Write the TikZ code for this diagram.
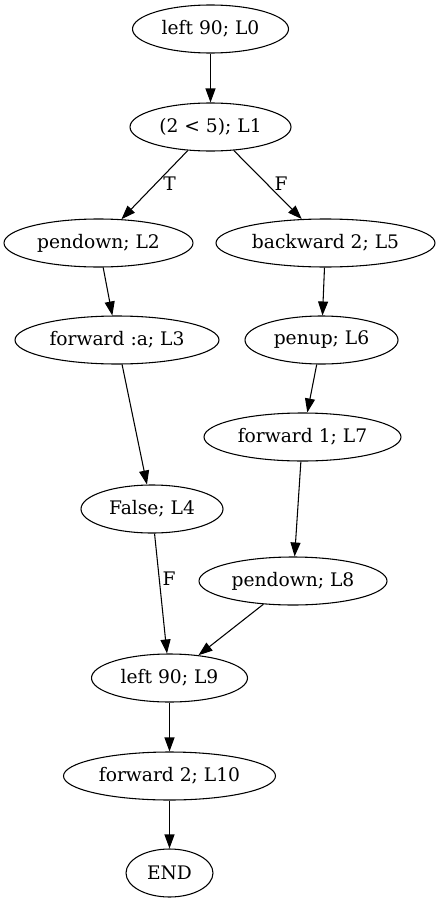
\documentclass[tikz,border=0pt]{standalone}
\usepackage{fontspec}
\setmainfont{DejaVu Serif}
\usetikzlibrary{shapes.geometric,arrows.meta}
\begin{document}
\begin{tikzpicture}[x=0.75pt,y=-0.75pt,
  blk/.style={draw,ellipse,line width=0.8pt,inner sep=0pt,minimum height=36pt,font=\fontsize{14pt}{16pt}\selectfont},
  arr/.style={-{Triangle[length=10.5pt,width=7.5pt]},line width=0.8pt},
  lbl/.style={font=\fontsize{14pt}{16pt}\selectfont,inner sep=0pt}]
\useasboundingbox (0,0) rectangle (440,903);
\node[blk,minimum width=117pt] (n0) at (210.5,29) {left 90; L0};
\node[blk,minimum width=120.75pt] (n1) at (210.5,127) {(2 < 5); L1};
\node[blk,minimum width=141.75pt] (n2) at (98.5,243) {pendown; L2};
\node[blk,minimum width=164.25pt] (n5) at (325.5,243) {backward 2; L5};
\node[blk,minimum width=153pt] (n3) at (117,340) {forward :a; L3};
\node[blk,minimum width=114.75pt] (n6) at (321.5,340) {penup; L6};
\node[blk,minimum width=147.75pt] (n7) at (302.5,437) {forward 1; L7};
\node[blk,minimum width=106.5pt] (n4) at (152,509) {False; L4};
\node[blk,minimum width=141pt] (n8) at (293,581) {pendown; L8};
\node[blk,minimum width=117pt] (n9) at (169.5,678) {left 90; L9};
\node[blk,minimum width=159pt] (n10) at (169.5,776) {forward 2; L10};
\node[blk,minimum width=65.25pt] (nend) at (169.5,873) {END};
\draw[arr] (n0) -- (n1);
\draw[arr] (n1) -- (n2);
\draw[arr] (n1) -- (n5);
\draw[arr] (n2) -- (n3);
\draw[arr] (n3) -- (n4);
\draw[arr] (n5) -- (n6);
\draw[arr] (n6) -- (n7);
\draw[arr] (n7) -- (n8);
\draw[arr] (n4) -- (n9);
\draw[arr] (n8) -- (n9);
\draw[arr] (n9) -- (n10);
\draw[arr] (n10) -- (nend);
\node[lbl] (lt) at (169.5,184) {T};
\node[lbl] (lf) at (281,184) {F};
\node[lbl] (lf2) at (169,579) {F};
\end{tikzpicture}
\end{document}
